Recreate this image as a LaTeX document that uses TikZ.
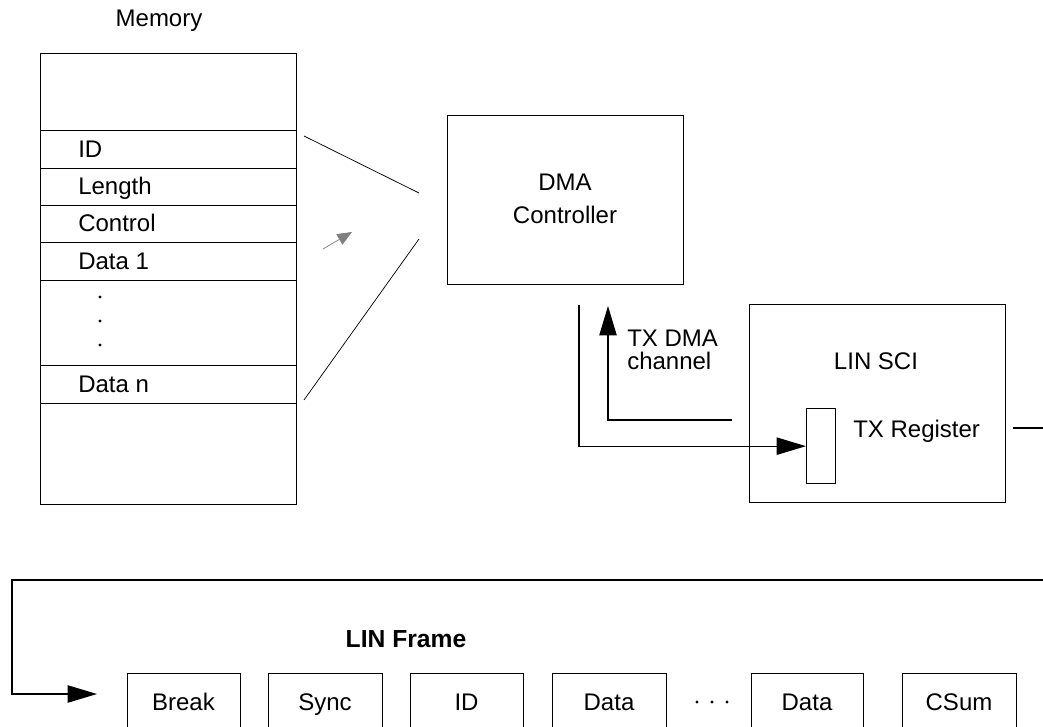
\documentclass[tikz,border=0pt]{standalone}
\usepackage{fontspec}
\setmainfont{Liberation Sans}
\usetikzlibrary{arrows.meta}
\begin{document}
\begin{tikzpicture}[x=0.75pt,y=-0.75pt,
  box/.style={draw, line width=1pt, inner sep=0pt, anchor=north west},
  lbl/.style={font=\fontsize{18}{17.25}\selectfont, inner sep=0pt},
  bold/.style={font=\fontsize{18.5}{20}\selectfont\bfseries, inner sep=0pt},
  slant/.style={line width=0.55pt},
  conn/.style={line width=0.9pt},
  tipA/.style={-{Triangle[length=22pt,width=13pt]}},
  dot/.style={fill=black, draw=none, circle, inner sep=0pt, minimum size=2.4pt}
]
\useasboundingbox (0,0) rectangle (1043,727);
\clip (0,0) rectangle (1043,727);

% ---------- Memory ----------
\node[lbl, anchor=base] (memlbl) at (159,27) {Memory};
\node[box, minimum width=192pt, minimum height=57.75pt] (mtop) at (40,53) {};
\node[box, minimum width=192pt, minimum height=28.5pt] (mid) at (40,130) {};
\node[box, minimum width=192pt, minimum height=27.75pt] (mlen) at (40,168) {};
\node[box, minimum width=192pt, minimum height=27.75pt] (mctl) at (40,205) {};
\node[box, minimum width=192pt, minimum height=28.5pt] (md1) at (40,242) {};
\node[box, minimum width=192pt, minimum height=63.75pt] (mdots) at (40,280) {};
\node[box, minimum width=192pt, minimum height=28.5pt] (mdn) at (40,365) {};
\node[box, minimum width=192pt, minimum height=75.75pt] (mbot) at (40,403) {};
\node[lbl, anchor=base west] (tid) at (78,158) {ID};
\node[lbl, anchor=base west] (tlen) at (78,195) {Length};
\node[lbl, anchor=base west] (tctl) at (78,232) {Control};
\node[lbl, anchor=base west] (td1) at (78,269.5) {Data 1};
\node[lbl, anchor=base west] (tdn) at (78,392.5) {Data n};
\node[dot] (d1) at (100,297) {};
\node[dot] (d2) at (100,321) {};
\node[dot] (d3) at (100,345) {};

% ---------- DMA Controller ----------
\node[box, minimum width=177pt, minimum height=126.75pt] (dma) at (447,115) {};
\node[lbl, align=center, font=\fontsize{18}{24.75}\selectfont] (dmatxt) at (565,198.5) {DMA\\Controller};

% fan lines memory -> DMA
\coordinate (fa1) at (304,136);
\coordinate (fa2) at (419,193);
\coordinate (fb1) at (304,400);
\coordinate (fb2) at (419,239);
\draw[slant] (fa1) -- (fa2);
\draw[slant] (fb1) -- (fb2);
\coordinate (ga) at (323,249);
\coordinate (gb) at (352,232);
\draw[slant, draw=gray, -{Triangle[length=11pt,width=9pt, fill=gray]}] (ga) -- (gb);

% ---------- LIN SCI ----------
\node[box, minimum width=192pt, minimum height=148.5pt] (sci) at (749,304) {};
\node[lbl, anchor=base] (scitxt) at (876,370) {LIN SCI};
\node[box, minimum width=21.75pt, minimum height=56.25pt] (reg) at (806,408) {};
\node[lbl, anchor=base west] (regtxt) at (853,437) {TX Register};

% DMA channel connectors
\coordinate (down0) at (579,305);
\draw[conn, tipA] (down0) |- (reg.west);
\coordinate (up0) at (732,420);
\coordinate (up1) at (608,306);
\draw[conn, tipA] (up0) -| (up1);
\node[lbl, anchor=base west, align=left] (chtxt) at (627,370) {TX DMA\\channel};

% output stub
\coordinate (stub0) at (1013,428);
\coordinate (stub1) at (1045,428);
\draw[conn] (stub0) -- (stub1);

% ---------- LIN Frame ----------
\coordinate (lr) at (1045,580);
\coordinate (ll) at (12,580);
\coordinate (lb) at (12,694);
\coordinate (la) at (97,694);
\draw[conn, tipA] (lr) -- (ll) -- (lb) -- (la);
\node[bold, anchor=base] (frametxt) at (406,647) {LIN Frame};

\node[box, minimum width=84.75pt, minimum height=70pt] (fbreak) at (127,673) {};
\node[box, minimum width=85.5pt, minimum height=70pt] (fsync) at (268,673) {};
\node[box, minimum width=84.75pt, minimum height=70pt] (fid) at (410,673) {};
\node[box, minimum width=85.5pt, minimum height=70pt] (fdata1) at (552,673) {};
\node[box, minimum width=84pt, minimum height=70pt] (fdata2) at (751,673) {};
\node[box, minimum width=85.5pt, minimum height=70pt] (fcsum) at (902,673) {};
\node[lbl, anchor=base] at (183.5,710) {Break};
\node[lbl, anchor=base] at (325,710) {Sync};
\node[lbl, anchor=base] at (466.5,710) {ID};
\node[lbl, anchor=base] at (609,710) {Data};
\node[lbl, anchor=base] at (807,710) {Data};
\node[lbl, anchor=base] at (959,710) {CSum};
\node[dot] (e1) at (697,702) {};
\node[dot] (e2) at (712,702) {};
\node[dot] (e3) at (727,702) {};
\end{tikzpicture}
\end{document}
